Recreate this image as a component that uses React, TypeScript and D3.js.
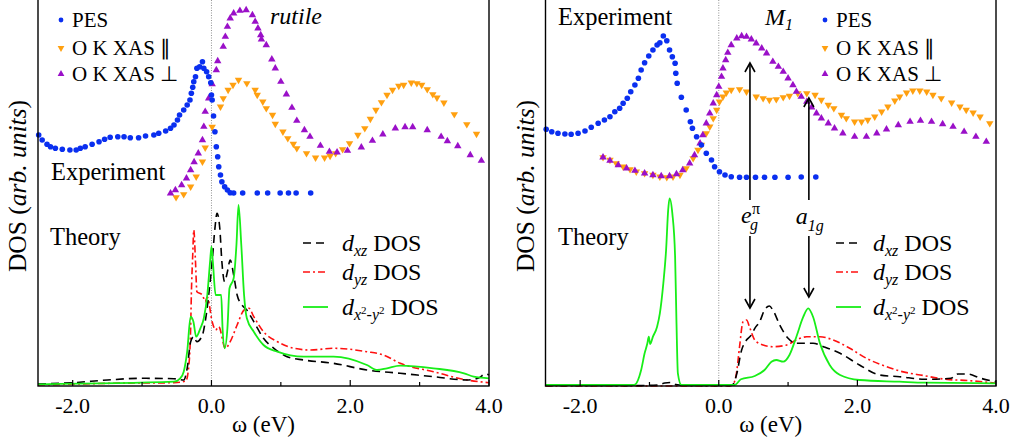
import React from "react";
import * as d3 from "d3";

type P = [number, number];

const X_DOMAIN: [number, number] = [-2.5, 4.0];
const Y_DOMAIN: [number, number] = [0, 386];
const majorTicks = [-2, 0, 2, 4];
const minorTicks = [-1, 1, 3];
const tickLabels = ["-2.0", "0.0", "2.0", "4.0"];

// ---------- rutile (left) experiment ----------
const rutilePES: P[] = [
  [-2.49, 251], [-2.44, 246], [-2.37, 241.7], [-2.32, 239.3], [-2.25, 237.7], [-2.15, 236.7], [-2.04, 236], [-1.95, 236],
  [-1.89, 237.7], [-1.82, 239.3], [-1.72, 241.7], [-1.62, 244.3], [-1.54, 246.7], [-1.46, 248.7], [-1.35, 249.3],
  [-1.26, 249.3], [-1.17, 248.3], [-1.05, 248.3], [-0.95, 250], [-0.83, 251], [-0.76, 252.7], [-0.66, 255], [-0.59, 257.7],
  [-0.54, 261], [-0.49, 266], [-0.46, 271], [-0.4, 276], [-0.35, 281], [-0.31, 286], [-0.29, 292.7], [-0.27, 298.7],
  [-0.255, 304.3], [-0.23, 309.3], [-0.21, 317.7], [-0.17, 319.3], [-0.13, 324.3], [-0.11, 317.7], [-0.07, 314.3],
  [-0.04, 309.3], [-0.01, 303.3], [0.0, 291], [0.01, 286], [0.03, 270], [0.05, 254.3], [0.07, 239.3], [0.09, 229.3],
  [0.105, 219.3], [0.13, 211], [0.15, 204.3], [0.19, 199.3], [0.23, 196], [0.27, 193.3], [0.32, 193], [0.45, 193],
  [0.66, 193], [0.81, 193], [0.99, 193], [1.11, 193], [1.22, 193], [1.43, 193],
];
const rutilePara: P[] = [
  [-0.51, 188.7], [-0.4, 191.7], [-0.3, 199.3], [-0.22, 209.3], [-0.13, 224.3], [-0.09, 238.3], [0.01, 259], [0.13, 279.3],
  [0.17, 287.7], [0.24, 296], [0.31, 301], [0.39, 306], [0.51, 302.7], [0.63, 296], [0.66, 291], [0.74, 284.3],
  [0.79, 277.7], [0.88, 271], [0.92, 262], [1.03, 254.3], [1.1, 247.7], [1.18, 242], [1.23, 237.7], [1.37, 232.7],
  [1.5, 228.3], [1.63, 228.3], [1.71, 230], [1.79, 232.7], [1.89, 236.7], [1.99, 242.7], [2.11, 251], [2.21, 257.7],
  [2.29, 267], [2.37, 276], [2.45, 283.7], [2.53, 291], [2.61, 296], [2.7, 300], [2.77, 301], [2.88, 303.3], [2.96, 302.7],
  [3.03, 301], [3.11, 296.7], [3.19, 291.7], [3.25, 288.3], [3.35, 283.3], [3.5, 271.7], [3.68, 261.7], [3.82, 252],
];
const rutilePerp: P[] = [
  [-0.59, 192.7], [-0.52, 196], [-0.43, 201], [-0.36, 207.7], [-0.3, 216], [-0.25, 224], [-0.19, 232.7], [-0.13, 246],
  [-0.11, 259.3], [-0.09, 274.3], [-0.04, 287.7], [0.01, 302], [0.07, 316], [0.09, 325], [0.17, 339.3], [0.2, 349.3],
  [0.23, 359.3], [0.27, 367.7], [0.32, 372.7], [0.41, 375.3], [0.5, 376], [0.59, 371], [0.63, 364.3], [0.67, 357.7],
  [0.71, 351], [0.72, 346.7], [0.79, 341], [0.87, 326.7], [0.92, 317.7], [1.0, 304.3], [1.08, 291.7], [1.16, 278.3],
  [1.23, 265.3], [1.34, 256], [1.42, 249.3], [1.57, 240.3], [1.7, 234.3], [1.81, 233.7], [1.96, 235.3], [2.16, 238.7],
  [2.32, 245.3], [2.47, 251.7], [2.65, 257.7], [2.79, 259], [2.9, 259], [3.11, 256], [3.31, 249.3], [3.4, 245],
  [3.55, 240], [3.73, 231], [3.89, 225.3],
];

// ---------- rutile (left) theory ----------
const rutileDxz: P[] = [
  [-2.5, 2], [-2.0, 3.3], [-1.5, 6], [-1.02, 7.7], [-0.54, 7.3], [-0.4, 6], [-0.35, 17.7], [-0.3, 44.3], [-0.255, 49.3],
  [-0.21, 44.3], [-0.13, 51], [-0.09, 64.3], [-0.04, 91], [0.01, 124.3], [0.05, 157.7], [0.08, 172.7], [0.12, 157.7],
  [0.15, 124.3], [0.19, 104.3], [0.23, 114.3], [0.27, 126], [0.32, 111], [0.37, 91], [0.44, 81], [0.51, 76], [0.61, 64.3],
  [0.75, 47.7], [0.9, 37.7], [1.09, 29.3], [1.33, 26], [1.76, 22.7], [2.24, 16], [2.72, 12.7], [3.2, 9.3], [3.68, 6],
  [3.85, 8], [3.95, 12], [4.0, 11],
];
const rutileDyz: P[] = [
  [-2.5, 1], [-1.46, 2.7], [-0.54, 3.3], [-0.37, 5], [-0.33, 17.7], [-0.3, 57.7], [-0.29, 91], [-0.27, 131],
  [-0.255, 156], [-0.23, 124.3], [-0.21, 94.3], [-0.13, 91], [-0.09, 84.3], [-0.06, 89], [0.01, 64.3], [0.06, 56],
  [0.105, 59.3], [0.2, 37.7], [0.27, 44.3], [0.37, 61], [0.47, 76], [0.54, 77.7], [0.61, 69.3], [0.75, 54.3],
  [0.95, 44.3], [1.19, 37.7], [1.43, 36], [1.76, 37.7], [2.24, 34.3], [2.48, 31], [2.72, 22.7], [3.2, 14.3],
  [3.68, 6], [4.0, 3.3],
];
const rutileDx2: P[] = [
  [-2.5, 1.7], [-0.54, 4.3], [-0.45, 7.7], [-0.4, 14.3], [-0.35, 34.3], [-0.3, 69.3], [-0.26, 64.3], [-0.22, 49.3],
  [-0.16, 57.7], [-0.11, 67.7], [-0.06, 91], [-0.02, 124.3], [0.0, 139.3], [0.02, 124.3], [0.06, 91], [0.105, 91],
  [0.14, 91], [0.16, 57.7], [0.19, 37.7], [0.23, 57.7], [0.26, 97.7], [0.32, 107.7], [0.36, 141], [0.39, 181],
  [0.43, 141], [0.47, 91], [0.51, 67.7], [0.61, 54.3], [0.75, 41], [0.95, 34.3], [1.33, 29.3], [1.76, 29.3],
  [2.24, 21], [2.39, 16], [2.53, 17.7], [2.72, 20.3], [3.2, 17.7], [3.64, 12.7], [3.78, 9.3], [4.0, 7.7],
];

// ---------- M1 (right) experiment ----------
const m1PES: P[] = [
  [-2.49, 256.7], [-2.41, 254.3], [-2.32, 252.7], [-2.22, 252], [-2.13, 251.7], [-2.03, 252.7], [-1.93, 255],
  [-1.84, 258.7], [-1.74, 262.7], [-1.65, 266], [-1.57, 269.3], [-1.5, 274.3], [-1.43, 277.7], [-1.38, 282.7],
  [-1.32, 287.7], [-1.27, 294.3], [-1.21, 301], [-1.16, 307.7], [-1.12, 316], [-1.07, 323.3], [-1.01, 330],
  [-0.95, 336], [-0.89, 341], [-0.85, 343.3], [-0.8, 350], [-0.75, 345.3], [-0.71, 336], [-0.67, 329.3],
  [-0.63, 322.7], [-0.62, 312.7], [-0.6, 302.7], [-0.54, 288.7], [-0.47, 276], [-0.41, 264.3], [-0.38, 257.7],
  [-0.32, 249.3], [-0.25, 241], [-0.18, 232.7], [-0.105, 226], [-0.06, 219.3], [0.01, 214.3], [0.09, 211],
  [0.18, 209.3], [0.3, 208.7], [0.4, 208.7], [0.53, 208.7], [0.66, 208.7], [0.81, 208.7], [1.0, 208.7],
  [1.19, 209], [1.4, 209],
];
const m1Para: P[] = [
  [-1.67, 228.7], [-1.57, 226], [-1.48, 222.7], [-1.38, 219.3], [-1.28, 216.7], [-1.19, 214.3], [-1.07, 212.7],
  [-0.95, 211], [-0.85, 209.3], [-0.75, 208.7], [-0.66, 209.3], [-0.56, 211], [-0.47, 217.7], [-0.37, 227.7],
  [-0.3, 236], [-0.25, 241], [-0.18, 252.7], [-0.13, 259.3], [-0.08, 267.7], [-0.03, 276], [0.01, 284.3],
  [0.06, 289.3], [0.11, 293.3], [0.18, 296], [0.3, 296.7], [0.4, 294.3], [0.54, 289.3], [0.64, 287.7], [0.73, 286],
  [0.83, 286.7], [0.93, 288.7], [1.02, 290], [1.14, 292.7], [1.27, 292.7], [1.39, 291], [1.48, 286], [1.58, 281],
  [1.66, 277.7], [1.77, 271], [1.84, 267.7], [1.96, 264.3], [2.06, 264.3], [2.15, 266], [2.25, 269.3], [2.35, 274.3],
  [2.44, 279.3], [2.54, 285.3], [2.61, 289.3], [2.71, 293.3], [2.8, 295.3], [2.9, 295.3], [3.0, 294.3], [3.09, 291],
  [3.21, 287.7], [3.36, 283.3], [3.48, 279.3], [3.57, 276], [3.67, 273.3], [3.77, 269.3], [3.91, 262.7],
];
const m1Perp: P[] = [
  [-1.67, 228.7], [-1.57, 225.3], [-1.45, 221], [-1.33, 217.7], [-1.21, 215.3], [-1.07, 212.7], [-0.95, 211],
  [-0.83, 210], [-0.71, 210], [-0.61, 212], [-0.52, 216], [-0.42, 222.7], [-0.35, 231], [-0.27, 242.7], [-0.23, 251],
  [-0.18, 262.7], [-0.13, 272.7], [-0.08, 282.7], [-0.03, 291], [0.0, 299.3], [0.04, 309.3], [0.06, 317.7],
  [0.1, 326], [0.13, 333.3], [0.18, 341], [0.26, 347.7], [0.33, 350], [0.4, 349.3], [0.47, 346.7], [0.54, 342.7],
  [0.62, 337.7], [0.69, 332.7], [0.78, 324.3], [0.86, 319.3], [0.93, 314.3], [1.0, 307.7], [1.07, 301], [1.12, 294.3],
  [1.19, 289.3], [1.27, 284.3], [1.34, 278.7], [1.41, 272.7], [1.48, 267.7], [1.58, 262.7], [1.67, 257.7],
  [1.79, 252.7], [1.96, 249.3], [2.13, 249.3], [2.28, 252.7], [2.42, 256.7], [2.59, 261], [2.76, 264.3], [2.91, 265.3],
  [3.07, 264.3], [3.23, 262], [3.38, 259.3], [3.54, 254.3], [3.71, 249.3], [3.86, 244.3],
];

// ---------- M1 (right) theory ----------
const m1Dxz: P[] = [
  [-2.5, 0.5], [-1.14, 0.5], [-0.88, 1], [-0.78, 3], [-0.69, 3.5], [-0.62, 1.5], [-0.42, 0.5], [0.16, 0.5], [0.21, 2],
  [0.255, 11], [0.33, 36], [0.4, 46], [0.47, 51], [0.52, 57.7], [0.59, 64.3], [0.66, 76], [0.73, 80], [0.78, 76],
  [0.88, 61], [1.0, 47.7], [1.12, 42.7], [1.36, 42.7], [1.51, 39.3], [1.75, 32.7], [2.03, 21], [2.32, 11], [2.61, 9.3],
  [2.97, 6.7], [3.35, 7.7], [3.45, 12], [3.59, 12], [3.78, 7.7], [4.0, 4.3],
];
const m1Dyz: P[] = [
  [-2.5, 0], [0.16, 0], [0.21, 2], [0.255, 12.7], [0.3, 39.3], [0.35, 64.3], [0.4, 66], [0.45, 57.7], [0.52, 46],
  [0.64, 41], [0.78, 39.3], [0.98, 41], [1.12, 46], [1.27, 49.3], [1.46, 49.3], [1.65, 46], [1.89, 37.7],
  [2.13, 27.7], [2.42, 19.3], [2.61, 15], [2.95, 10.5], [3.3, 6.5], [3.59, 5.5], [4.0, 2.7],
];
const m1Dx2: P[] = [
  [-2.5, 1], [-1.22, 1], [-1.12, 16], [-1.07, 32.7], [-1.03, 42.7], [-1.01, 49.3], [-0.99, 42], [-0.95, 49.3],
  [-0.89, 59.3], [-0.85, 72.7], [-0.8, 102.7], [-0.76, 136], [-0.73, 176], [-0.71, 187.7], [-0.67, 172.7],
  [-0.63, 129.3], [-0.61, 62.7], [-0.59, 12.7], [-0.54, 1], [0.23, 1], [0.32, 6.7], [0.52, 10], [0.66, 16],
  [0.76, 24.3], [0.83, 26], [0.93, 24.3], [1.02, 31], [1.12, 49.3], [1.22, 69.3], [1.29, 77.7], [1.36, 69.3],
  [1.46, 42.7], [1.6, 21], [1.75, 11], [2.03, 6], [2.61, 4.3], [2.97, 3.3], [4.0, 2.7],
];

const BLUE = "#0a2ff0";
const ORANGE = "#ffa010";
const PURPLE = "#9a10c8";
const RED = "#ff1010";
const GREEN = "#18ee18";
const TOP = -5;
const BOTTOM = 386;

const ser = (size: number, italic = false): React.CSSProperties => ({
  fontFamily: "Liberation Serif",
  fontSize: size,
  fontStyle: italic ? "italic" : "normal",
});

const triUp = d3.symbol().type(d3.symbolTriangle).size(24)() as string;
const triUpSmall = d3.symbol().type(d3.symbolTriangle).size(20)() as string;

interface PanelProps {
  x0: number;
  x1: number;
  pes: P[];
  para: P[];
  perp: P[];
  dxz: P[];
  dyz: P[];
  dx2: P[];
  children?: (x: d3.ScaleLinear<number, number>, y: d3.ScaleLinear<number, number>) => React.ReactNode;
}

function Panel({ x0, x1, pes, para, perp, dxz, dyz, dx2, children }: PanelProps) {
  const x = d3.scaleLinear().domain(X_DOMAIN).range([x0, x1]);
  const y = d3.scaleLinear().domain(Y_DOMAIN).range([BOTTOM, 0]);
  const line = d3
    .line<P>()
    .x((d) => x(d[0]))
    .y((d) => y(d[1]))
    .curve(d3.curveMonotoneX);
  const cx = (x0 + x1) / 2;
  return (
    <g>
      <line x1={x(0)} x2={x(0)} y1={TOP} y2={BOTTOM} stroke="#777" strokeWidth={0.8} strokeDasharray="1,1.5" />
      <path d={line(dyz) || ""} fill="none" stroke={RED} strokeWidth={1.6} strokeDasharray="7,3,2,3" />
      <path d={line(dxz) || ""} fill="none" stroke="#000" strokeWidth={1.6} strokeDasharray="8,5" />
      <path d={line(dx2) || ""} fill="none" stroke={GREEN} strokeWidth={1.8} />
      {para.map((d, i) => (
        <path key={"a" + i} d={triUp} transform={`translate(${x(d[0])},${y(d[1])}) rotate(180)`} fill={ORANGE} />
      ))}
      {perp.map((d, i) => (
        <path key={"b" + i} d={triUp} transform={`translate(${x(d[0])},${y(d[1])})`} fill={PURPLE} />
      ))}
      {pes.map((d, i) => (
        <circle key={"c" + i} cx={x(d[0])} cy={y(d[1])} r={2.8} fill={BLUE} />
      ))}
      {children && children(x, y)}
      <rect x={x0} y={TOP} width={x1 - x0} height={BOTTOM - TOP} fill="none" stroke="#000" strokeWidth={1.4} />
      {majorTicks.map((t, i) => (
        <g key={"t" + t}>
          <line x1={x(t)} x2={x(t)} y1={BOTTOM} y2={BOTTOM - 6} stroke="#000" strokeWidth={1.2} />
          <text x={x(t)} y={413} textAnchor="middle" style={ser(22)}>
            {tickLabels[i]}
          </text>
        </g>
      ))}
      {minorTicks.map((t) => (
        <line key={"m" + t} x1={x(t)} x2={x(t)} y1={BOTTOM} y2={BOTTOM - 4} stroke="#000" strokeWidth={1.2} />
      ))}
      <text x={cx} y={432} textAnchor="middle" style={ser(23)}>
        ω (eV)
      </text>
      <text transform={`translate(${x0 - 12},186) rotate(-90)`} textAnchor="middle" style={ser(25.5)}>
        DOS (<tspan style={{ fontStyle: "italic" }}>arb. units</tspan>)
      </text>
    </g>
  );
}

function ExpLegend({ mx, tx }: { mx: number; tx: number }) {
  const rows = [20, 48, 74];
  return (
    <g>
      <circle cx={mx} cy={rows[0]} r={2.4} fill={BLUE} />
      <text x={tx} y={rows[0] + 7} style={ser(21)}>PES</text>
      <path d={triUpSmall} transform={`translate(${mx},${rows[1]}) rotate(180)`} fill={ORANGE} />
      <text x={tx} y={rows[1] + 7} style={ser(21)}>O K XAS ∥</text>
      <path d={triUpSmall} transform={`translate(${mx},${rows[2]})`} fill={PURPLE} />
      <text x={tx} y={rows[2] + 7} style={ser(21)}>O K XAS ⊥</text>
    </g>
  );
}

const it = { fontStyle: "italic" } as React.CSSProperties;

function TheoryLegend({ lx, tx }: { lx: number; tx: number }) {
  const rows = [243, 272, 307];
  return (
    <g>
      <line x1={lx} x2={lx + 25} y1={rows[0]} y2={rows[0]} stroke="#000" strokeWidth={1.6} strokeDasharray="8,5" />
      <text x={tx} y={rows[0] + 8} style={ser(24)}>
        <tspan style={it}>d</tspan>
        <tspan style={{ ...it, fontSize: 16 }} dy={5}>xz</tspan>
        <tspan dy={-5}> DOS</tspan>
      </text>
      <line x1={lx} x2={lx + 25} y1={rows[1]} y2={rows[1]} stroke={RED} strokeWidth={1.6} strokeDasharray="7,3,2,3" />
      <text x={tx} y={rows[1] + 8} style={ser(24)}>
        <tspan style={it}>d</tspan>
        <tspan style={{ ...it, fontSize: 16 }} dy={5}>yz</tspan>
        <tspan dy={-5}> DOS</tspan>
      </text>
      <line x1={lx} x2={lx + 25} y1={rows[2]} y2={rows[2]} stroke={GREEN} strokeWidth={1.8} />
      <text x={tx} y={rows[2] + 8} style={ser(24)}>
        <tspan style={it}>d</tspan>
        <tspan style={{ ...it, fontSize: 16 }} dy={5}>x</tspan>
        <tspan style={{ fontSize: 11 }} dy={-6}>2</tspan>
        <tspan style={{ fontSize: 16 }} dy={6}>-</tspan>
        <tspan style={{ ...it, fontSize: 16 }}>y</tspan>
        <tspan style={{ fontSize: 11 }} dy={-6}>2</tspan>
        <tspan dy={1}> DOS</tspan>
      </text>
    </g>
  );
}

function Arrow({ x, yFrom, yTo }: { x: number; yFrom: number; yTo: number }) {
  const dir = yTo < yFrom ? 1 : -1;
  return (
    <g stroke="#000" strokeWidth={1.6} fill="none">
      <line x1={x} x2={x} y1={yFrom} y2={yTo} />
      <path d={`M${x - 5},${yTo + dir * 9} L${x},${yTo} L${x + 5},${yTo + dir * 9}`} />
    </g>
  );
}

export default function App() {
  return (
    <svg width={1016} height={444} style={{ position: "absolute", left: 0, top: 0, background: "#fff" }}>
      <rect x={0} y={0} width={1016} height={444} fill="#fff" />
      <Panel x0={38} x1={489} pes={rutilePES} para={rutilePara} perp={rutilePerp} dxz={rutileDxz} dyz={rutileDyz} dx2={rutileDx2} />
      <ExpLegend mx={61} tx={72} />
      <TheoryLegend lx={303} tx={342} />
      <text x={270} y={24} style={ser(24, true)}>rutile</text>
      <text x={51} y={180} style={ser(24.5)}>Experiment</text>
      <text x={50} y={245} style={ser(24.5)}>Theory</text>

      <Panel x0={545.5} x1={996} pes={m1PES} para={m1Para} perp={m1Perp} dxz={m1Dxz} dyz={m1Dyz} dx2={m1Dx2}>
        {(x, y) => (
          <g>
            <Arrow x={x(0.45)} yFrom={y(186)} yTo={y(323)} />
            <Arrow x={x(0.45)} yFrom={y(150)} yTo={y(78)} />
            <Arrow x={x(1.3)} yFrom={y(186)} yTo={y(288)} />
            <Arrow x={x(1.3)} yFrom={y(150)} yTo={y(89)} />
            <text x={x(0.45) - 9} y={223} style={ser(24, true)}>e</text>
            <text x={x(0.45) + 2} y={214} style={ser(16)}>π</text>
            <text x={x(0.45)} y={230} style={ser(16, true)}>g</text>
            <text x={x(1.3) - 13} y={224} style={ser(24, true)}>a</text>
            <text x={x(1.3) - 1} y={231} style={ser(16, true)}>1g</text>
          </g>
        )}
      </Panel>
      <ExpLegend mx={825} tx={836} />
      <TheoryLegend lx={836} tx={873} />
      <text x={558} y={25} style={ser(24.5)}>Experiment</text>
      <text x={765} y={25} style={ser(24, true)}>
        M<tspan style={{ fontSize: 16 }} dy={5}>1</tspan>
      </text>
      <text x={558} y={245} style={ser(24.5)}>Theory</text>
    </svg>
  );
}
